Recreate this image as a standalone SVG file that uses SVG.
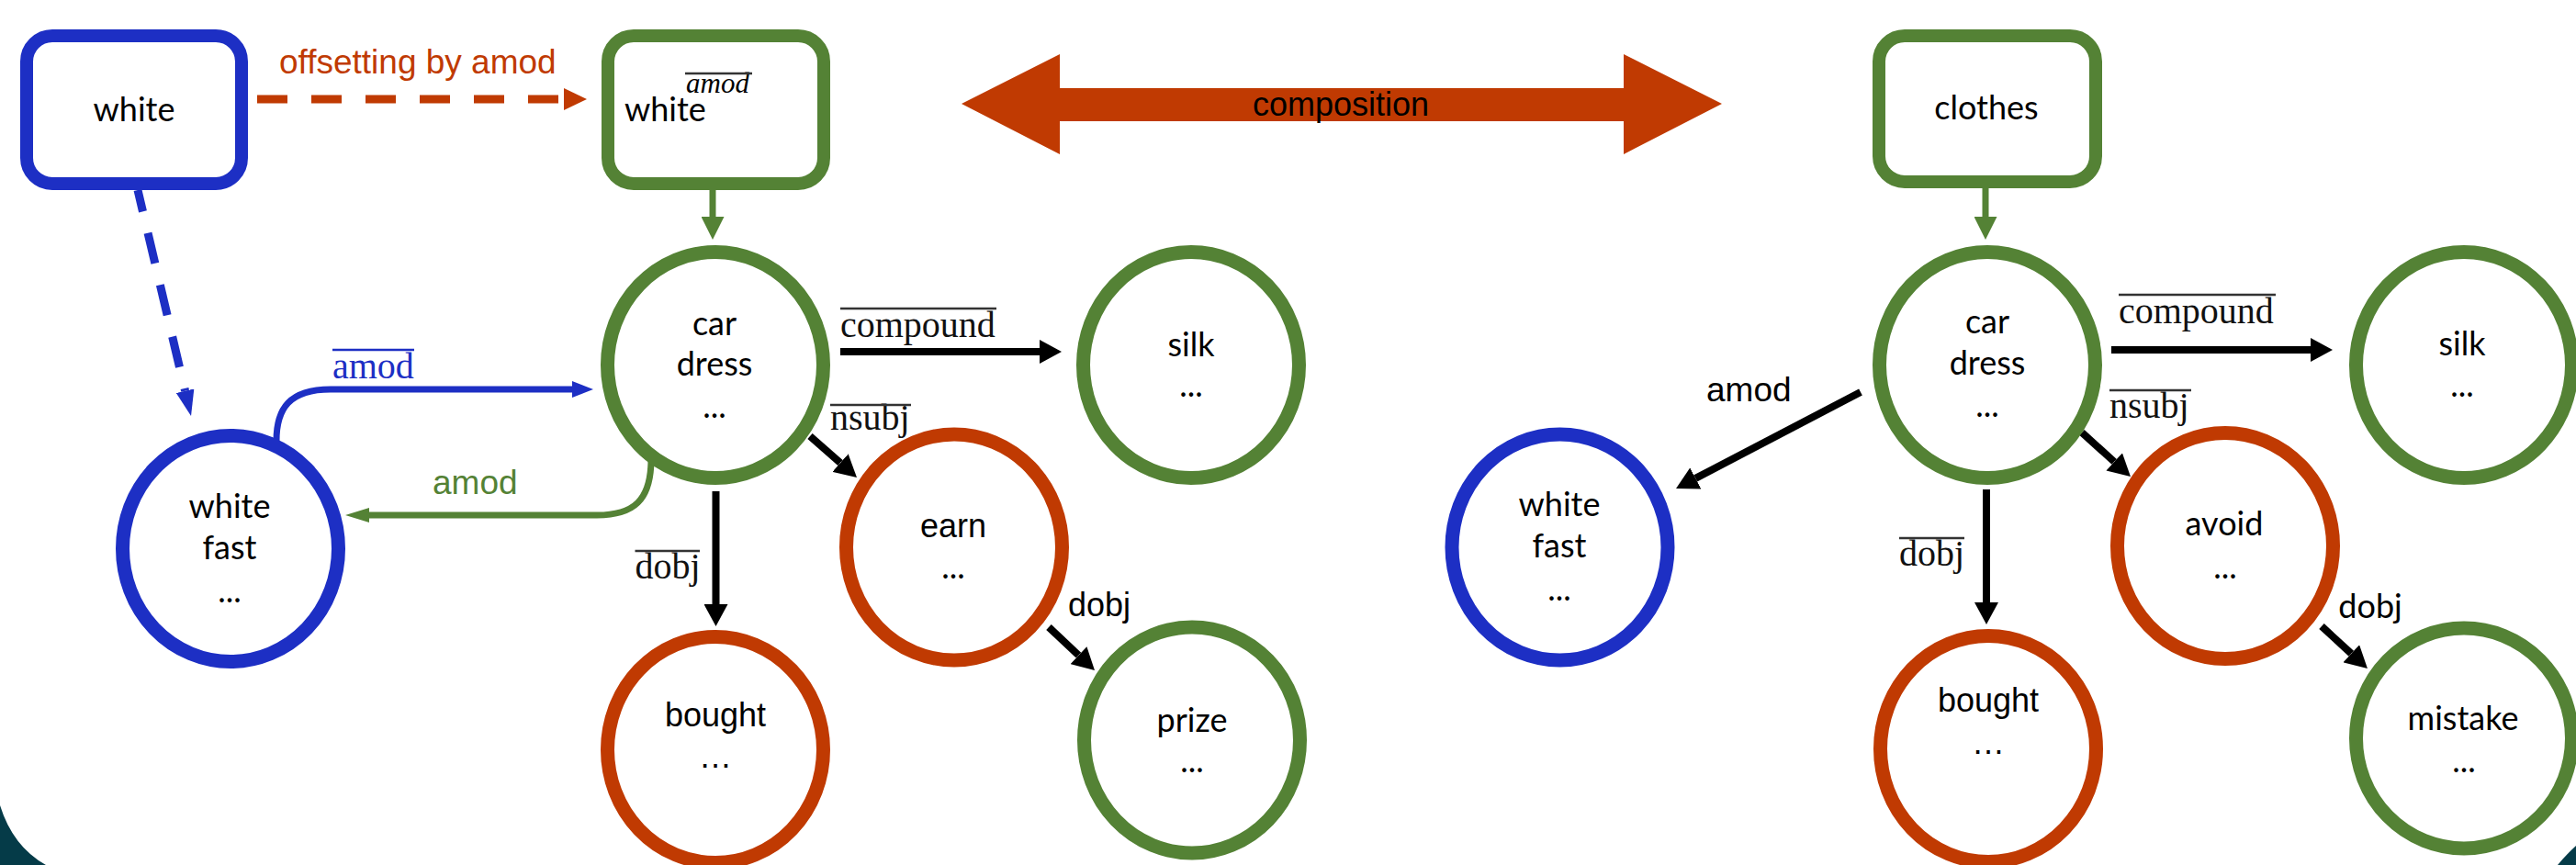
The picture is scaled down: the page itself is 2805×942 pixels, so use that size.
<svg xmlns="http://www.w3.org/2000/svg" width="2805" height="942" viewBox="0 0 2805 942">
  <style>
    .bg { fill: #ffffff; }
    .corner { fill: #053b48; }
    .box { fill: #ffffff; stroke-width: 14; }
    .node { fill: #ffffff; stroke-width: 15; }
    .blue { stroke: #1d2fc4; }
    .green { stroke: #548235; }
    .red { stroke: #c03a02; }
    .calibri { font-family: Lato, "Liberation Sans", sans-serif; font-size: 36px; fill: #000; text-anchor: middle; }
    .arial { font-family: "Liberation Sans", Arial, sans-serif; font-size: 36px; fill: #000; text-anchor: middle; }
    .lbl { font-family: "Liberation Sans", Arial, sans-serif; font-size: 37px; }
    .math { font-family: "Liberation Serif", "DejaVu Serif", serif; font-size: 40px; fill: #111; }
    .ovl { stroke: #333; stroke-width: 2.5; }
    .blk { fill: none; stroke: #000; stroke-width: 8; }
  </style>
  <defs>
    <marker id="ahBlack" markerUnits="userSpaceOnUse" markerWidth="24" markerHeight="26" refX="0" refY="13" orient="auto">
      <path d="M0,0 L24,13 L0,26 Z" fill="#000"/>
    </marker>
    <marker id="ahGreen" markerUnits="userSpaceOnUse" markerWidth="25" markerHeight="25" refX="0" refY="12.5" orient="auto">
      <path d="M0,0 L25,12.5 L0,25 Z" fill="#548235"/>
    </marker>
    <marker id="ahGreenSmall" markerUnits="userSpaceOnUse" markerWidth="26" markerHeight="16" refX="0" refY="8" orient="auto">
      <path d="M0,0 L26,8 L0,16 Z" fill="#548235"/>
    </marker>
    <marker id="ahBlueSmall" markerUnits="userSpaceOnUse" markerWidth="23" markerHeight="18" refX="0" refY="9" orient="auto">
      <path d="M0,0 L23,9 L0,18 Z" fill="#1d2fc4"/>
    </marker>
    <marker id="ahBlueDash" markerUnits="userSpaceOnUse" markerWidth="28" markerHeight="20" refX="0" refY="10" orient="auto">
      <path d="M0,0 L28,10 L0,20 Z" fill="#1d2fc4"/>
    </marker>
    <marker id="ahRed" markerUnits="userSpaceOnUse" markerWidth="25" markerHeight="24" refX="0" refY="12" orient="auto">
      <path d="M0,0 L25,12 L0,24 Z" fill="#c03a02"/>
    </marker>
  </defs>

  <rect class="bg" x="0" y="0" width="2805" height="942"/>
  <path class="corner" d="M0,877 Q14,922 50,942 L0,942 Z"/>
  <path class="corner" d="M2785,942 Q2794,931 2805,921 L2805,942 Z"/>

  <g id="connectors">
    <!-- offsetting by amod (red dashed) -->
    <line x1="280" y1="108" x2="614" y2="108" stroke="#c03a02" stroke-width="9" stroke-dasharray="33 26" marker-end="url(#ahRed)"/>
    <text class="lbl" x="304" y="80" fill="#c03a02">offsetting by amod</text>
    <!-- white box to white fast (blue dashed) -->
    <line x1="150" y1="207" x2="201.6" y2="425.7" stroke="#1d2fc4" stroke-width="9" stroke-dasharray="34 24" stroke-dashoffset="10" marker-end="url(#ahBlueDash)"/>
    <!-- white^amod box to car dress -->
    <line x1="776" y1="205" x2="776" y2="236" stroke="#548235" stroke-width="7" marker-end="url(#ahGreen)"/>
    <!-- clothes to car dress -->
    <line x1="2162" y1="203" x2="2162" y2="236" stroke="#548235" stroke-width="7" marker-end="url(#ahGreen)"/>
    <!-- composition double arrow -->
    <polygon points="1047,113 1154,59 1154,96 1768,96 1768,59 1875,113 1768,168 1768,132 1154,132 1154,168" fill="#c03a02"/>
    <text class="arial" x="1460" y="126">composition</text>

    <!-- amod-bar blue: white fast -> car dress -->
    <path d="M301,480 C301,445 315,424 360,424 L623,424" fill="none" stroke="#1d2fc4" stroke-width="7" marker-end="url(#ahBlueSmall)"/>
    <text class="math" x="362" y="412" style="fill:#1d2fc4">amod</text>
    <line x1="362" y1="381" x2="451" y2="381" stroke="#1d2fc4" stroke-width="2.5"/>
    <!-- amod green: car dress -> white fast -->
    <path d="M709,500 C709,545 690,561 650,561 L402,561" fill="none" stroke="#548235" stroke-width="7" marker-end="url(#ahGreenSmall)"/>
    <text class="lbl" x="471" y="538" fill="#548235">amod</text>

    <!-- compound-bar left -->
    <line class="blk" x1="915" y1="383" x2="1132" y2="383" marker-end="url(#ahBlack)"/>
    <text class="math" x="915" y="367">compound</text>
    <line class="ovl" x1="915" y1="336" x2="1085" y2="336"/>
    <!-- nsubj-bar left -->
    <line class="blk" x1="882" y1="475" x2="915" y2="504.1" marker-end="url(#ahBlack)"/>
    <text class="math" x="904" y="468">nsubj</text>
    <line class="ovl" x1="904" y1="441" x2="992" y2="441"/>
    <!-- dobj-bar left -->
    <line class="blk" x1="779.5" y1="535" x2="779.5" y2="658" marker-end="url(#ahBlack)"/>
    <text class="math" x="691.5" y="630">dobj</text>
    <line class="ovl" x1="691.5" y1="600" x2="762" y2="600"/>
    <!-- dobj earn -> prize -->
    <line class="blk" x1="1142" y1="683" x2="1174.5" y2="713.6" marker-end="url(#ahBlack)"/>
    <text class="arial" x="1197" y="671">dobj</text>

    <!-- right graph -->
    <!-- amod: car dress -> white fast -->
    <line class="blk" x1="2026" y1="427" x2="1846.3" y2="520.9" marker-end="url(#ahBlack)"/>
    <text class="lbl" x="1858" y="437" fill="#000">amod</text>
    <!-- compound-bar right -->
    <line class="blk" x1="2299" y1="381" x2="2516" y2="381" marker-end="url(#ahBlack)"/>
    <text class="math" x="2307" y="352">compound</text>
    <line class="ovl" x1="2307" y1="321" x2="2478" y2="321"/>
    <!-- nsubj-bar right -->
    <line class="blk" x1="2267" y1="471" x2="2302.2" y2="502.9" marker-end="url(#ahBlack)"/>
    <text class="math" x="2297" y="455">nsubj</text>
    <line class="ovl" x1="2297" y1="425" x2="2386" y2="425"/>
    <!-- dobj-bar right -->
    <line class="blk" x1="2163" y1="533" x2="2163" y2="656" marker-end="url(#ahBlack)"/>
    <text class="math" x="2068" y="616">dobj</text>
    <line class="ovl" x1="2068" y1="586" x2="2139" y2="586"/>
    <!-- dobj avoid -> mistake -->
    <line class="blk" x1="2528" y1="682" x2="2560.3" y2="711.8" marker-end="url(#ahBlack)"/>
    <text class="calibri" x="2581" y="673">dobj</text>
  </g>

  <g id="node-white-box">
    <rect class="box blue" x="29" y="39" width="234" height="161" rx="28"/>
    <text class="calibri" x="146" y="132">white</text>
  </g>
  <g id="node-white-amod-box">
    <rect class="box green" x="662" y="39" width="235" height="161" rx="28"/>
    <text class="calibri" x="680" y="132" style="text-anchor:start">white</text>
    <text x="747" y="101" font-family="'Liberation Serif', serif" font-style="italic" font-size="31" fill="#000">amod</text>
    <line x1="746" y1="80" x2="819" y2="80" stroke="#333" stroke-width="2.5"/>
  </g>
  <g id="node-clothes-box">
    <rect class="box green" x="2046" y="39" width="236" height="159" rx="28"/>
    <text class="calibri" x="2163" y="130">clothes</text>
  </g>

  <g id="node-car-dress-left">
    <ellipse class="node green" cx="779" cy="397.5" rx="117.5" ry="123"/>
    <text class="calibri" x="778" y="365">car</text>
    <text class="calibri" x="778" y="409">dress</text>
    <text class="calibri" x="778" y="455">...</text>
  </g>
  <g id="node-white-fast-left">
    <ellipse class="node blue" cx="251" cy="597.5" rx="117.5" ry="123"/>
    <text class="calibri" x="250" y="564">white</text>
    <text class="calibri" x="250" y="609">fast</text>
    <text class="calibri" x="250" y="656">...</text>
  </g>
  <g id="node-silk-left">
    <ellipse class="node green" cx="1297" cy="397.5" rx="117.5" ry="123"/>
    <text class="calibri" x="1297" y="388">silk</text>
    <text class="calibri" x="1297" y="432">...</text>
  </g>
  <g id="node-earn">
    <ellipse class="node red" cx="1039" cy="596" rx="117.5" ry="123"/>
    <text class="arial" x="1038" y="585">earn</text>
    <text class="calibri" x="1038" y="630">...</text>
  </g>
  <g id="node-bought-left">
    <ellipse class="node red" cx="779" cy="816.5" rx="117.5" ry="123"/>
    <text class="arial" x="779" y="791">bought</text>
    <text class="arial" x="779" y="836">…</text>
  </g>
  <g id="node-prize">
    <ellipse class="node green" cx="1298" cy="806" rx="117.5" ry="123"/>
    <text class="calibri" x="1298" y="797">prize</text>
    <text class="calibri" x="1298" y="841">...</text>
  </g>

  <g id="node-car-dress-right">
    <ellipse class="node green" cx="2164" cy="397.5" rx="117.5" ry="123"/>
    <text class="calibri" x="2164" y="363">car</text>
    <text class="calibri" x="2164" y="408">dress</text>
    <text class="calibri" x="2164" y="454">...</text>
  </g>
  <g id="node-silk-right">
    <ellipse class="node green" cx="2683" cy="397.5" rx="117.5" ry="123"/>
    <text class="calibri" x="2681" y="387">silk</text>
    <text class="calibri" x="2681" y="432">...</text>
  </g>
  <g id="node-white-fast-right">
    <ellipse class="node blue" cx="1698.5" cy="596" rx="117.5" ry="123"/>
    <text class="calibri" x="1698" y="562">white</text>
    <text class="calibri" x="1698" y="607">fast</text>
    <text class="calibri" x="1698" y="654">...</text>
  </g>
  <g id="node-avoid">
    <ellipse class="node red" cx="2423" cy="594.5" rx="117.5" ry="123"/>
    <text class="calibri" x="2422" y="583">avoid</text>
    <text class="calibri" x="2423" y="630">...</text>
  </g>
  <g id="node-bought-right">
    <ellipse class="node red" cx="2165" cy="815.5" rx="117.5" ry="123"/>
    <text class="arial" x="2165" y="775">bought</text>
    <text class="arial" x="2165" y="821">…</text>
  </g>
  <g id="node-mistake">
    <ellipse class="node green" cx="2683" cy="804" rx="117.5" ry="120"/>
    <text class="calibri" x="2682" y="795">mistake</text>
    <text class="calibri" x="2683" y="841">...</text>
  </g>
</svg>
